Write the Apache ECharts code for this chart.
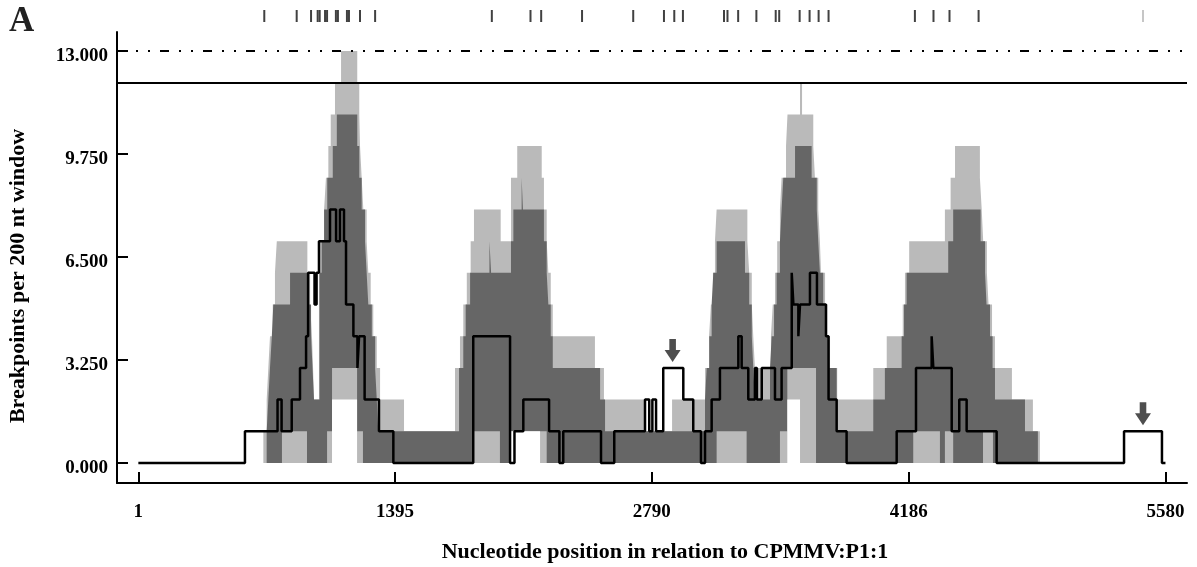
<!DOCTYPE html>
<html>
<head>
<meta charset="utf-8">
<script src="https://cdn.jsdelivr.net/npm/echarts@6/dist/echarts.min.js"></script>
<style>
  html, body { margin: 0; padding: 0; background: #ffffff; }
  #chart { width: 1197px; height: 567px; }
</style>
</head>
<body>
<div id="chart"></div>
<script>
// Axis ticks
const xTicks = [1, 1395, 2790, 4186, 5580];
const yTicks = [0, 3.25, 6.5, 9.75, 13];

// Step data: [nucleotide position, breakpoints per 200 nt window held until the next position]
const observed = [[1,0],[580,1],[757,2],[779,1],[834,2],[879,3],[912,4],[923,6],[958,5],[969,6],[982,7],[1042,8],[1075,7],[1096,8],[1118,7],[1129,5],[1169,4],[1191,3],[1200,4],[1230,2],[1308,1],[1386,0],[1820,4],[2020,0],[2044,1],[2092,2],[2232,1],[2288,0],[2309,1],[2514,0],[2586,1],[2753,2],[2776,1],[2793,2],[2813,1],[2852,3],[2961,2],[3015,1],[3057,0],[3079,1],[3115,2],[3160,3],[3260,4],[3278,3],[3314,2],[3350,3],[3361,2],[3387,3],[3459,2],[3495,3],[3550,6],[3559,5],[3586,4],[3595,5],[3649,6],[3687,5],[3736,4],[3750,2],[3794,1],[3848,0],[4120,1],[4225,3],[4310,4],[4319,3],[4419,1],[4460,2],[4500,1],[4663,0],[5355,1],[5561,0],[5580,0]];

// 99% confidence interval (upper / lower bound)
const upper99 = [[1,0],[680,1],[698,2],[707,3],[716,4],[731,5],[743,6],[753,7],[919,6],[934,5],[944,4],[950,3],[955,2],[982,7],[1010,8],[1020,9],[1033,10],[1046,11],[1069,12],[1102,13],[1190,12],[1201,11],[1205,10],[1214,9],[1223,8],[1241,7],[1250,6],[1263,5],[1277,4],[1296,3],[1314,2],[1444,1],[1721,3],[1748,4],[1766,5],[1785,6],[1806,7],[1824,8],[1969,7],[2025,9],[2059,10],[2192,9],[2204,8],[2219,7],[2228,6],[2241,5],[2252,4],[2481,3],[2530,2],[2753,1],[2900,2],[3079,3],[3101,4],[3111,5],[3122,6],[3133,7],[3142,8],[3309,7],[3319,6],[3333,5],[3341,4],[3350,3],[3437,4],[3447,5],[3459,6],[3471,7],[3486,8],[3495,9],[3519,10],[3527,11],[3595,12],[3606,11],[3667,10],[3676,9],[3694,8],[3703,7],[3709,6],[3731,5],[3743,4],[3758,3],[3797,2],[3993,3],[4066,4],[4153,5],[4165,6],[4188,7],[4382,8],[4413,9],[4437,10],[4572,9],[4582,8],[4590,7],[4610,6],[4619,5],[4638,4],[4654,3],[4746,2],[4860,1],[4898,0],[5580,0]];
const lower99 = [[1,0],[1053,2],[1189,0],[2025,1],[2183,0],[3526,2],[3595,0],[5580,0]];

// 95% confidence interval (upper / lower bound)
const upper95 = [[1,0],[698,1],[707,2],[716,3],[726,4],[734,5],[825,6],[924,5],[939,4],[947,3],[955,2],[985,6],[997,7],[1010,8],[1027,9],[1057,10],[1079,11],[1190,10],[1201,9],[1214,8],[1232,7],[1241,6],[1250,5],[1269,4],[1287,3],[1296,2],[1304,1],[1743,3],[1766,4],[1779,5],[1803,6],[1908,7],[1917,6],[2025,7],[2038,8],[2083,9],[2090,8],[2204,7],[2219,6],[2228,5],[2241,4],[2252,3],[2509,2],[2536,1],[3079,2],[3088,3],[3102,4],[3115,5],[3124,6],[3142,7],[3296,6],[3319,5],[3333,4],[3341,3],[3350,2],[3432,3],[3441,4],[3454,5],[3468,6],[3486,7],[3495,8],[3504,9],[3568,10],[3658,9],[3686,8],[3694,7],[3703,6],[3721,5],[3736,4],[3748,3],[3794,1],[3993,2],[4056,3],[4147,4],[4160,5],[4174,6],[4400,7],[4427,8],[4576,7],[4600,6],[4608,5],[4627,4],[4641,3],[4654,2],[4817,1],[4887,0],[5580,0]];
const lower95 = [[1,0],[781,1],[917,0],[1026,1],[1053,3],[1189,1],[1221,0],[1820,1],[1965,0],[2025,1],[2219,0],[3142,1],[3305,0],[3486,1],[3526,3],[3682,0],[4210,1],[4355,0],[4382,1],[4427,0],[4589,1],[4643,0],[5580,0]];

// Global breakpoint-cluster thresholds
const threshold99 = 13;
const threshold95 = 12;

// Recombination breakpoint positions (rug along the top)
const breakpointSites = [685,861,939,975,986,1015,1026,1074,1085,1134,1145,1205,1287,1921,2131,2189,2411,2689,2856,2912,2959,3182,3201,3259,3358,3463,3482,3593,3647,3696,3750,4219,4320,4407,4565];
const minorSites = [5458];

// Highlighted windows: [position, value of the window]
const arrowMarks = [[2903,3],[5458,1]];

const FONT = '"Liberation Serif", "Times New Roman", serif';
const LIGHT = '#bababa';
const DARK = '#666666';

function band(name, data, color) {
  return {
    name: name, type: 'line', step: 'end', data: data,
    symbol: 'none', silent: true,
    lineStyle: { width: 0, opacity: 0 },
    areaStyle: { color: color, opacity: 1 },
    z: 2
  };
}

const chart = echarts.init(document.getElementById('chart'), null, { renderer: 'canvas' });
chart.setOption({
  animation: false,
  backgroundColor: '#ffffff',
  grid: [
    { left: 117, right: 10, top: 32, bottom: 84 },
    { left: 117, right: 10, top: 8, height: 16 }
  ],
  xAxis: [
    {
      type: 'value', min: -115, max: 5697,
      axisLine: { show: true, onZero: false, lineStyle: { color: '#000', width: 2 } },
      axisTick: { show: true, inside: true, length: 11, customValues: xTicks, lineStyle: { color: '#000', width: 2 } },
      axisLabel: {
        customValues: xTicks, margin: 20, color: '#000', fontFamily: FONT, fontWeight: 'bold', fontSize: 19,
        formatter: function (v) { return String(Math.round(v)); }
      },
      splitLine: { show: false }
    },
    { type: 'value', gridIndex: 1, min: -115, max: 5697, show: false }
  ],
  yAxis: [
    {
      type: 'value', min: -0.631, max: 13.6,
      axisLine: { show: true, onZero: false, lineStyle: { color: '#000', width: 2 } },
      axisTick: { show: true, inside: true, length: 11, customValues: yTicks, lineStyle: { color: '#000', width: 2 } },
      axisLabel: {
        customValues: yTicks, margin: 9, color: '#000', fontFamily: FONT, fontWeight: 'bold', fontSize: 19,
        verticalAlign: 'top', lineHeight: 10,
        formatter: function (v) { return v.toFixed(3); }
      },
      splitLine: { show: false }
    },
    { type: 'value', gridIndex: 1, min: -1, max: 1, show: false }
  ],
  series: [
    band('99% upper', upper99, LIGHT),
    band('95% upper', upper95, DARK),
    band('95% lower', lower95, LIGHT),
    band('99% lower', lower99, '#ffffff'),
    {
      name: 'Breakpoints', type: 'line', step: 'end', data: observed,
      symbol: 'none', silent: true,
      lineStyle: { color: '#000', width: 2.5 },
      z: 5,
      markLine: {
        silent: true, symbol: ['none', 'none'], label: { show: false },
        data: [
          { yAxis: threshold99, lineStyle: { color: '#000', width: 2, type: [9, 10, 2, 10, 2, 10] } },
          { yAxis: threshold95, lineStyle: { color: '#000', width: 2, type: 'solid' } }
        ]
      }
    },
    {
      name: 'Marked windows', type: 'scatter', data: arrowMarks, silent: true,
      symbol: 'path://M5,0L12,0L12,11L17,11L8.5,23L0,11L5,11Z',
      symbolSize: [16, 23], symbolOffset: [0, -17.5],
      itemStyle: { color: '#222222' }, z: 6
    },
    {
      name: 'Breakpoint sites', type: 'scatter', xAxisIndex: 1, yAxisIndex: 1, silent: true,
      data: breakpointSites.map(function (p) { return [p, 0]; }),
      symbol: 'rect', symbolSize: [2, 12], itemStyle: { color: '#111' }
    },
    {
      name: 'Minor sites', type: 'scatter', xAxisIndex: 1, yAxisIndex: 1, silent: true,
      data: minorSites.map(function (p) { return [p, 0]; }),
      symbol: 'rect', symbolSize: [2, 12], itemStyle: { color: '#b8b8b8' }
    }
  ],
  graphic: [
    { type: 'text', left: 9, top: 4, style: { text: 'A', font: 'bold 35px ' + FONT, fill: '#222' } },
    {
      type: 'text', x: 18, y: 276, rotation: Math.PI / 2,
      style: { text: 'Breakpoints per 200 nt window', font: 'bold 22px ' + FONT, fill: '#000', textAlign: 'center', textVerticalAlign: 'middle' }
    },
    {
      type: 'text', x: 665, y: 552,
      style: { text: 'Nucleotide position in relation to CPMMV:P1:1', font: 'bold 22px ' + FONT, fill: '#000', textAlign: 'center', textVerticalAlign: 'middle' }
    }
  ]
});
</script>
</body>
</html>
